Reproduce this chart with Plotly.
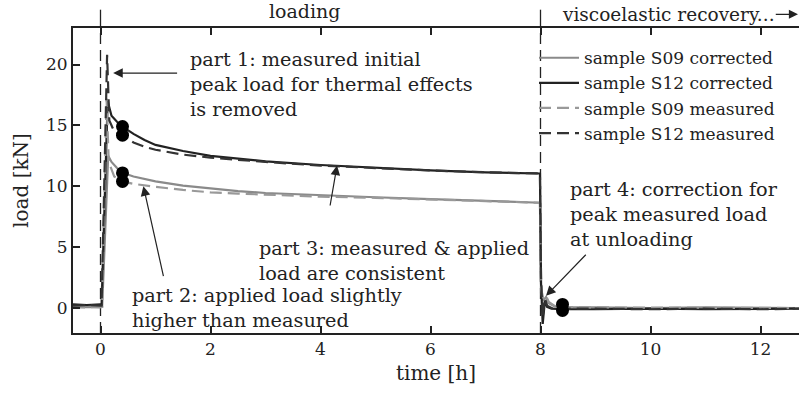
import plotly.graph_objects as go

# Load histories of the creep tests (time in hours, load in kN)
t_s09_corr = [-0.5, -0.25, 0.0, 0.03, 0.14, 0.2, 0.3, 0.4, 0.6, 0.8, 1.0, 1.5, 2.0, 2.5, 3.0, 4.0, 5.0, 6.0, 7.0, 7.99,
              8.01, 8.05, 8.1, 8.15, 8.25, 8.4, 9.0, 10.0, 11.0, 12.0, 12.7]
y_s09_corr = [0.05, 0.1, 0.05, 0.1, 12.5, 12.0, 11.5, 11.1, 10.8, 10.6, 10.4, 10.05, 9.8, 9.6, 9.45, 9.25, 9.1, 8.95, 8.8, 8.65,
              1.2, 0.6, 0.9, 0.4, 0.15, 0.05, 0.05, 0.0, 0.05, 0.0, 0.0]

t_s12_corr = [-0.5, -0.25, 0.0, 0.02, 0.13, 0.2, 0.3, 0.4, 0.6, 0.8, 1.0, 1.5, 2.0, 2.5, 3.0, 4.0, 5.0, 6.0, 7.0, 7.99,
              8.01, 8.04, 8.08, 8.12, 8.2, 8.4, 9.0, 10.0, 11.0, 12.0, 12.7]
y_s12_corr = [0.3, 0.25, 0.3, 0.3, 17.0, 15.8, 15.3, 14.9, 14.3, 13.8, 13.4, 12.9, 12.5, 12.25, 12.05, 11.75, 11.5, 11.3, 11.15, 11.05,
              2.0, -1.3, 0.6, 0.1, -0.05, -0.1, -0.1, -0.05, -0.1, -0.05, -0.05]

t_s09_meas = [-0.5, -0.25, 0.0, 0.03, 0.11, 0.15, 0.25, 0.4, 0.6, 0.8, 1.0, 1.5, 2.0, 2.5, 3.0, 4.0, 5.0, 6.0, 7.0, 7.99,
              8.01, 8.05, 8.1, 8.15, 8.25, 8.4, 9.0, 10.0, 11.0, 12.0, 12.7]
y_s09_meas = [0.1, 0.05, 0.1, 0.1, 17.2, 12.0, 10.8, 10.4, 10.2, 10.05, 9.95, 9.7, 9.5, 9.4, 9.3, 9.15, 9.05, 8.9, 8.78, 8.65,
              1.6, 0.8, 1.0, 0.5, 0.2, 0.1, 0.05, 0.05, 0.0, 0.05, 0.0]

t_s12_meas = [-0.5, -0.25, 0.0, 0.02, 0.12, 0.16, 0.25, 0.4, 0.6, 0.8, 1.0, 1.5, 2.0, 2.5, 3.0, 4.0, 5.0, 6.0, 7.0, 7.99,
              8.01, 8.04, 8.08, 8.12, 8.2, 8.4, 9.0, 10.0, 11.0, 12.0, 12.7]
y_s12_meas = [0.2, 0.25, 0.2, 0.2, 20.8, 15.4, 14.5, 14.2, 13.6, 13.25, 13.0, 12.6, 12.35, 12.15, 12.0, 11.7, 11.48, 11.3, 11.15, 11.05,
              2.5, -0.8, 0.8, 0.2, 0.0, -0.05, -0.05, -0.1, -0.05, -0.1, -0.05]

# Transition points where measured data is replaced by corrected data
t_marks = [0.4, 0.4, 0.4, 0.4, 8.4, 8.4]
y_marks = [14.9, 14.2, 11.1, 10.4, 0.3, -0.2]

x_ticks = [0, 2, 4, 6, 8, 10, 12]
y_ticks = [0, 5, 10, 15, 20]

SERIF = "'DejaVu Serif', 'Liberation Serif', serif"
INK = "#222222"
GREY = "#8a8a8a"

fig = go.Figure()
fig.add_trace(go.Scatter(x=t_s09_corr, y=y_s09_corr, mode="lines", name="sample S09 corrected",
                         line=dict(color=GREY, width=2.2)))
fig.add_trace(go.Scatter(x=t_s12_corr, y=y_s12_corr, mode="lines", name="sample S12 corrected",
                         line=dict(color=INK, width=2.2)))
fig.add_trace(go.Scatter(x=t_s09_meas, y=y_s09_meas, mode="lines", name="sample S09 measured",
                         line=dict(color="#999999", width=2.2, dash="12px,6px")))
fig.add_trace(go.Scatter(x=t_s12_meas, y=y_s12_meas, mode="lines", name="sample S12 measured",
                         line=dict(color="#333333", width=2.2, dash="12px,6px")))
fig.add_trace(go.Scatter(x=t_marks, y=y_marks, mode="markers", showlegend=False,
                         marker=dict(color="black", size=13)))

# phase boundaries: solid above the frame, dashed inside
for tb in (0, 8):
    fig.add_shape(type="line", xref="x", yref="paper", x0=tb, x1=tb, y0=1.0, y1=1.06,
                  line=dict(color=INK, width=1.3))
    fig.add_shape(type="line", xref="x", yref="paper", x0=tb, x1=tb, y0=0.0, y1=1.0,
                  line=dict(color=INK, width=1.3, dash="11px,6px"), layer="below")

notes = [
    ("part 1: measured initial<br>peak load for thermal effects<br>is removed", 1.6, 21.45),
    ("part 2: applied load slightly<br>higher than measured", 0.55, 2.05),
    ("part 3: measured &amp; applied<br>load are consistent", 2.86, 5.95),
    ("part 4: correction for<br>peak measured load<br>at unloading", 8.51, 10.8),
]
for txt, x, y in notes:
    fig.add_annotation(text=txt, x=x, y=y, xref="x", yref="y", showarrow=False,
                       xanchor="left", yanchor="top", align="left", borderpad=0,
                       font=dict(family=SERIF, size=19.3, color=INK))

arrows = [
    (0.23, 19.3, 1.42, 19.3),
    (0.78, 10.0, 1.15, 2.5),
    (4.3, 11.7, 4.17, 8.3),
    (8.1, 1.0, 8.85, 4.5),
]
for x, y, ax, ay in arrows:
    fig.add_annotation(x=x, y=y, ax=ax, ay=ay, xref="x", yref="y", axref="x", ayref="y",
                       text="", showarrow=True, arrowhead=2, arrowsize=1.6, arrowwidth=1.2,
                       arrowcolor=INK)

fig.add_annotation(text="loading", x=3.7, y=1.055, xref="x", yref="paper", showarrow=False,
                   yanchor="middle", font=dict(family=SERIF, size=19, color=INK))
fig.add_annotation(text="viscoelastic recovery...", x=8.35, y=1.045, xref="x", yref="paper",
                   showarrow=False, xanchor="left", yanchor="middle",
                   font=dict(family=SERIF, size=18.5, color=INK))
fig.add_annotation(x=0.999, y=1.045, ax=-24, ay=0, xref="paper", yref="paper",
                   text="", showarrow=True, arrowhead=2,
                   arrowsize=1.4, arrowwidth=1.3, arrowcolor=INK)

fig.update_layout(
    width=799, height=399,
    margin=dict(l=73, r=0, t=28, b=66),
    paper_bgcolor="white", plot_bgcolor="white",
    font=dict(family=SERIF, size=19, color=INK),
    showlegend=True,
    legend=dict(x=0.635, y=0.96, xanchor="left", yanchor="top", bgcolor="rgba(0,0,0,0)",
                font=dict(family=SERIF, size=17, color=INK), tracegroupgap=0, itemwidth=40),
    xaxis=dict(range=[-0.5, 12.7], tickvals=x_ticks, ticktext=[str(v) for v in x_ticks],
               ticks="inside", ticklen=7, tickwidth=1.5, tickcolor=INK,
               showline=True, linecolor=INK, linewidth=2, mirror="ticks",
               showgrid=False, zeroline=False, tickfont=dict(size=17),
               title=dict(text="time [h]", font=dict(family=SERIF, size=20), standoff=8)),
    yaxis=dict(range=[-2.05, 23.0], tickvals=y_ticks, ticktext=[str(v) for v in y_ticks],
               ticks="inside", ticklen=7, tickwidth=1.5, tickcolor=INK,
               showline=True, linecolor=INK, linewidth=2,
               showgrid=False, zeroline=False, tickfont=dict(size=17),
               title=dict(text="load [kN]", font=dict(family=SERIF, size=20), standoff=12)),
)

fig.write_html("out.html")
